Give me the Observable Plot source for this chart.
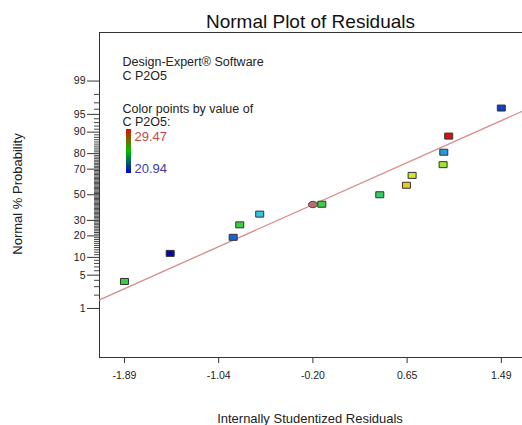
<!DOCTYPE html>
<html><head><meta charset="utf-8">
<script src="https://cdn.jsdelivr.net/npm/d3@7"></script>
<script src="https://cdn.jsdelivr.net/npm/@observablehq/plot@0.6"></script>
<style>body{margin:0;background:#fff} svg{display:block}</style>
</head><body><div id="chart"></div>
<script>
// ---- data ----
const residuals     = [-1.89, -1.48, -0.915, -0.856, -0.677, -0.12, 0.40, 0.639, 0.690, 0.968, 0.974, 1.018, 1.49];
const probabilities = [3.8, 11.5, 19.2, 26.9, 34.6, 42.3, 50, 57.7, 65.4, 73.1, 80.8, 88.5, 96.2];
const cP2O5         = [25.2, 20.94, 22.2, 25.2, 23.78, 25.2, 24.9, 27.75, 26.7, 26.2, 23.05, 29.47, 21.7];
const colorExtent   = [20.94, 29.47];
const colorStops    = ["#0808a8", "#1a70d8", "#30c4e4", "#38d040", "#d0e830", "#f0c020", "#d81010"];
const fitLineX      = [-2.114, 1.68];
const fitLineP      = [1.58, 95.64];
const cursorX       = [-0.20];
const cursorP       = [42.1];
const yTickLabels   = [1, 5, 10, 20, 30, 50, 70, 80, 90, 95, 99];
const xTicks        = [-1.89, -1.045, -0.20, 0.645, 1.49];
const xTickLabels   = ["-1.89", "-1.04", "-0.20", "0.65", "1.49"];

// inverse standard normal CDF (Acklam)
function probit(p) {
  const a=[-3.969683028665376e+01,2.209460984245205e+02,-2.759285104469687e+02,1.383577518672690e+02,-3.066479806614716e+01,2.506628277459239e+00];
  const b=[-5.447609879822406e+01,1.615858368580409e+02,-1.556989798598866e+02,6.680131188771972e+01,-1.328068155288572e+01];
  const c=[-7.784894002430293e-03,-3.223964580411365e-01,-2.400758277161838e+00,-2.549732539343734e+00,4.374664141464968e+00,2.938163982698783e+00];
  const d=[7.784695709041462e-03,3.224671290700398e-01,2.445134137142996e+00,3.754408661907416e+00];
  const pl=0.02425, ph=1-pl;
  let q, r;
  if (p < pl) { q=Math.sqrt(-2*Math.log(p)); return (((((c[0]*q+c[1])*q+c[2])*q+c[3])*q+c[4])*q+c[5])/((((d[0]*q+d[1])*q+d[2])*q+d[3])*q+1); }
  if (p <= ph) { q=p-0.5; r=q*q; return (((((a[0]*r+a[1])*r+a[2])*r+a[3])*r+a[4])*r+a[5])*q/(((((b[0]*r+b[1])*r+b[2])*r+b[3])*r+b[4])*r+1); }
  q=Math.sqrt(-2*Math.log(1-p)); return -(((((c[0]*q+c[1])*q+c[2])*q+c[3])*q+c[4])*q+c[5])/((((d[0]*q+d[1])*q+d[2])*q+d[3])*q+1);
}
const z = pct => probit(pct / 100);

const points = residuals.map((r, i) => ({r, z: z(probabilities[i]), c: cP2O5[i]}));
const fit = fitLineX.map((x, i) => ({x, z: z(fitLineP[i])}));
const cursor = cursorX.map((x, i) => ({x, z: z(cursorP[i])}));

const majorZ = yTickLabels.map(z);
const yLabelOf = new Map(yTickLabels.map(p => [z(p), String(p)]));
const minorZ = d3.range(1, 100).filter(p => !yTickLabels.includes(p)).map(z);
const xLabelOf = new Map(xTicks.map((t, i) => [t, xTickLabels[i]]));

const rectSymbol = {draw(ctx) { ctx.rect(-4, -3, 8, 6); }};
const ellipseSymbol = {draw(ctx) {
  const rx = 4.5, ry = 3.2, k = 0.5523;
  ctx.moveTo(rx, 0);
  ctx.bezierCurveTo(rx, ry*k, rx*k, ry, 0, ry);
  ctx.bezierCurveTo(-rx*k, ry, -rx, ry*k, -rx, 0);
  ctx.bezierCurveTo(-rx, -ry*k, -rx*k, -ry, 0, -ry);
  ctx.bezierCurveTo(rx*k, -ry, rx, -ry*k, rx, 0);
  ctx.closePath();
}};

const yDomain = [-3.33, 3.32];
const xDomain = [-2.114, 1.68];

const svg = Plot.plot({
  width: 522, height: 425,
  marginLeft: 99, marginRight: 0, marginTop: 32, marginBottom: 68,
  style: {fontFamily: "'Liberation Sans', Arial, sans-serif", fontSize: "10.5px", color: "#222", background: "#fff"},
  x: {domain: xDomain},
  y: {domain: yDomain},
  color: {type: "linear", domain: colorExtent, interpolate: d3.piecewise(d3.interpolateRgb, colorStops)},
  marks: [
    Plot.ruleY([yDomain[0], yDomain[1]], {stroke: "#333"}),
    Plot.ruleX([xDomain[0]], {stroke: "#333"}),
    Plot.axisY(majorZ, {tickSize: 12, tickPadding: 2, tickFormat: d => yLabelOf.get(d), label: null, stroke: "#333"}),
    Plot.axisY(minorZ, {tickSize: 5, tickFormat: () => "", label: null, stroke: "#444"}),
    Plot.axisX(xTicks, {tickSize: 6, tickPadding: 8, tickFormat: d => xLabelOf.get(d), label: null, stroke: "#333"}),
    Plot.line(fit, {x: "x", y: "z", stroke: "#d98a8a", strokeWidth: 1.3}),
    Plot.dot(cursor, {x: "x", y: "z", fill: "#b86e6e", stroke: "#444", strokeWidth: 1, symbol: ellipseSymbol}),
    Plot.dot(points, {x: "r", y: "z", fill: "c", stroke: "#333", strokeWidth: 1, symbol: rectSymbol})
  ]
});

const s = d3.select(svg);
const font = "'Liberation Sans', Arial, sans-serif";
s.append("text").attr("x", 310.5).attr("y", 27.5).attr("text-anchor", "middle")
  .attr("font-family", font).attr("font-size", 19).attr("fill", "#111").text("Normal Plot of Residuals");
s.append("text").attr("x", 310).attr("y", 423).attr("text-anchor", "middle")
  .attr("font-family", font).attr("font-size", 13).attr("fill", "#222").text("Internally Studentized Residuals");
s.append("text").attr("transform", "translate(21.5,194) rotate(-90)").attr("text-anchor", "middle")
  .attr("font-family", font).attr("font-size", 13).attr("fill", "#222").text("Normal % Probability");

const legendLines = [["Design-Expert® Software", 66], ["C P2O5", 79.5], ["Color points by value of", 112.5], ["C P2O5:", 125.5]];
legendLines.forEach(([t, y]) => s.append("text").attr("x", 122.5).attr("y", y).attr("text-anchor", "start")
  .attr("font-family", font).attr("font-size", 12.5).attr("fill", "#222").text(t));

const defs = s.append("defs");
const grad = defs.append("linearGradient").attr("id", "cgrad").attr("x1", 0).attr("y1", 0).attr("x2", 0).attr("y2", 1);
[["0%", "#e01000"], ["50%", "#00c000"], ["100%", "#0000d0"]].forEach(([o, c]) => grad.append("stop").attr("offset", o).attr("stop-color", c));
s.append("rect").attr("x", 126).attr("y", 129).attr("width", 5).attr("height", 44).attr("fill", "url(#cgrad)");
s.append("text").attr("x", 134.5).attr("y", 140.5).attr("text-anchor", "start").attr("font-family", font).attr("font-size", 13)
  .attr("fill", "#c84848").text(colorExtent[1].toFixed(2));
s.append("text").attr("x", 134.5).attr("y", 172.5).attr("text-anchor", "start").attr("font-family", font).attr("font-size", 13)
  .attr("fill", "#3c3ca8").text(colorExtent[0].toFixed(2));

document.getElementById("chart").appendChild(svg);
</script>
</body></html>
